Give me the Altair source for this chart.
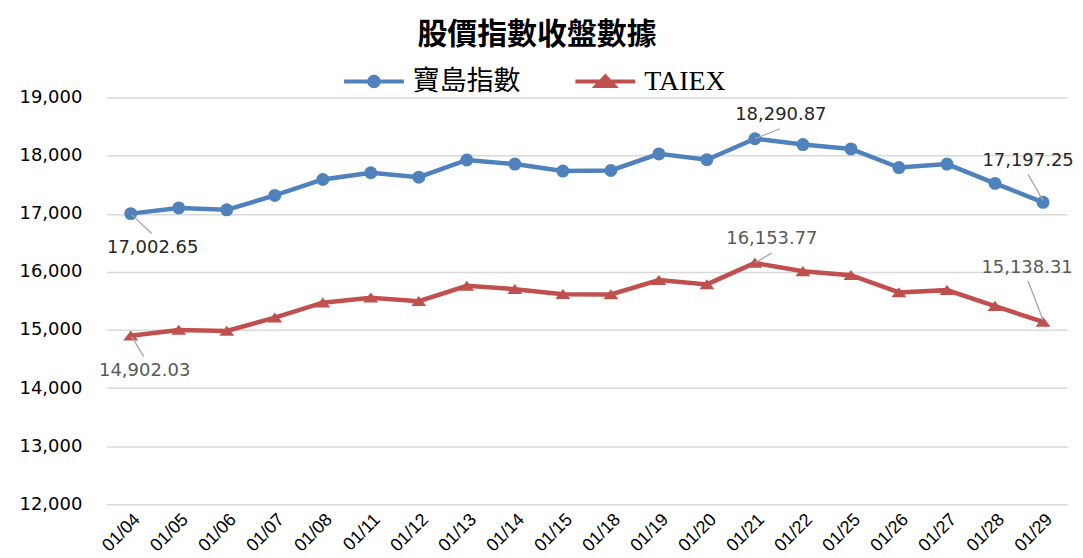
import altair as alt
import pandas as pd

# ---- data ----
dates = ["01/04", "01/05", "01/06", "01/07", "01/08", "01/11", "01/12", "01/13", "01/14", "01/15",
         "01/18", "01/19", "01/20", "01/21", "01/22", "01/25", "01/26", "01/27", "01/28", "01/29"]
formosa = [17002.65, 17100, 17068, 17315, 17590, 17705, 17630, 17925, 17855, 17735,
           17745, 18030, 17930, 18290.87, 18190, 18115, 17795, 17855, 17523, 17197.25]
taiex = [14902.03, 15000, 14983, 15212, 15470, 15555, 15497, 15760, 15703, 15617,
         15612, 15858, 15785, 16153.77, 16010, 15943, 15646, 15686, 15412, 15138.31]
series_names = ["寶島指數", "TAIEX"]
y_ticks = [12000, 13000, 14000, 15000, 16000, 17000, 18000, 19000]
title_text = "股價指數收盤數據"

# ---- styles ----
colors = ["#4f81bd", "#c0504d"]
label_colors = ["#262626", "#595959"]
tri_path = "M0,-0.8L1.15,0.75L-1.15,0.75Z"
legend_paths = [
    "M-1,0H1M-0.16,0A0.16,0.16 0 1,0 0.16,0A0.16,0.16 0 1,0 -0.16,0Z",
    "M-1,0H1M0,-0.17L0.3,0.15L-0.3,0.15Z",
]
legend_fonts = ["Noto Sans CJK TC", "Liberation Serif"]
legend_font_sizes = [27, 28]
legend_x = [236, 468]

rows = []
for d, v in zip(dates, formosa):
    rows.append({"date": d, "value": v, "series": series_names[0]})
for d, v in zip(dates, taiex):
    rows.append({"date": d, "value": v, "series": series_names[1]})
df = pd.DataFrame(rows)

x_enc = alt.X("date:N", sort=dates, scale=alt.Scale(type="point", padding=0.5),
              axis=alt.Axis(title=None, labelAngle=-45, labelFont="Liberation Sans", labelFontSize=18,
                            labelColor="#000000", domain=False, ticks=False, grid=False, labelPadding=6))
y_axis = alt.Axis(title=None, values=y_ticks, format=",.0f", domain=False, ticks=False,
                  labelPadding=25, labelFont="DejaVu Sans", labelFontSize=18,
                  labelColor="#000000", grid=True, gridColor="#d9d9d9", gridWidth=1.5)
y_scale = alt.Scale(domain=[12000, 19000], nice=False, zero=False)
y_enc = alt.Y("value:Q", scale=y_scale, axis=y_axis)

base = alt.Chart(df)

lines = base.mark_line(strokeWidth=4.5).encode(
    x=x_enc, y=y_enc,
    color=alt.Color("series:N", scale=alt.Scale(domain=series_names, range=colors), legend=None),
)

point_layers = []
for i, shp in enumerate(["circle", tri_path]):
    point_layers.append(
        base.transform_filter(alt.datum.series == series_names[i])
        .mark_point(filled=True, size=169, opacity=1, strokeWidth=0, shape=shp, color=colors[i])
        .encode(x=x_enc, y=y_enc)
    )

# legend-only layers (their own marks are clipped away below the plot)
legend_layers = []
for i in range(2):
    leg = alt.Legend(title=None, orient="none", legendX=legend_x[i], legendY=-48,
                     symbolType=legend_paths[i], symbolSize=3600, symbolStrokeWidth=4,
                     symbolStrokeColor=colors[i], symbolOpacity=1, padding=0,
                     labelFont=legend_fonts[i], labelFontSize=legend_font_sizes[i], labelColor="#000000",
                     labelOffset=7, labelLimit=300)
    legend_layers.append(
        base.transform_filter(alt.datum.series == series_names[i])
        .transform_calculate(hidden_y="0")
        .mark_point(filled=True, size=10, clip=True)
        .encode(
            x=x_enc,
            y=alt.Y("hidden_y:Q", scale=y_scale, axis=y_axis),
            fill=alt.Fill("series:N", scale=alt.Scale(domain=[series_names[i]], range=[colors[i]]), legend=leg),
        )
    )

# annotations: (series index, date, text dx, text dy, leader path in pixels)
annotations = [
    (0, "01/04", 22, 35, "M1,1L21,20"),
    (0, "01/21", 26, -24, "M0,0L25,-10"),
    (0, "01/29", -15, -41, "M0,-2L-15,-28"),
    (1, "01/04", 14, 35, "M1,1L13,21"),
    (1, "01/21", 17, -24, "M0,0L17,-10"),
    (1, "01/29", -16, -54, "M0,-2L-15,-41"),
]

ann_layers = []
for si, d, dx, dy, path in annotations:
    sub = base.transform_filter(
        (alt.datum.series == series_names[si]) & (alt.datum.date == d)
    )
    ann_layers.append(
        sub.mark_point(shape=path, size=4, filled=False, stroke="#a6a6a6", strokeWidth=1.3, opacity=1)
        .encode(x=x_enc, y=y_enc)
    )
    ann_layers.append(
        sub.mark_text(dx=dx, dy=dy, font="DejaVu Sans", fontSize=18, color=label_colors[si],
                      align="center", baseline="middle")
        .encode(x=x_enc, y=y_enc, text=alt.Text("value:Q", format=",.2f"))
    )

chart = alt.layer(lines, *point_layers, *legend_layers, *ann_layers).resolve_scale(
    fill="independent"
).properties(
    width=963,
    height=408,
    padding={"left": 99, "top": 89, "right": 8, "bottom": 50},
    autosize=alt.AutoSizeParams(type="none"),
    title=alt.TitleParams(title_text, font="Noto Sans CJK TC", fontSize=30, fontWeight="bold",
                          anchor="middle", dx=-50, offset=0, color="#000000"),
    background="white",
).configure_view(stroke=None)

chart.save("out.html", embed_options={"renderer": "svg", "actions": False})
